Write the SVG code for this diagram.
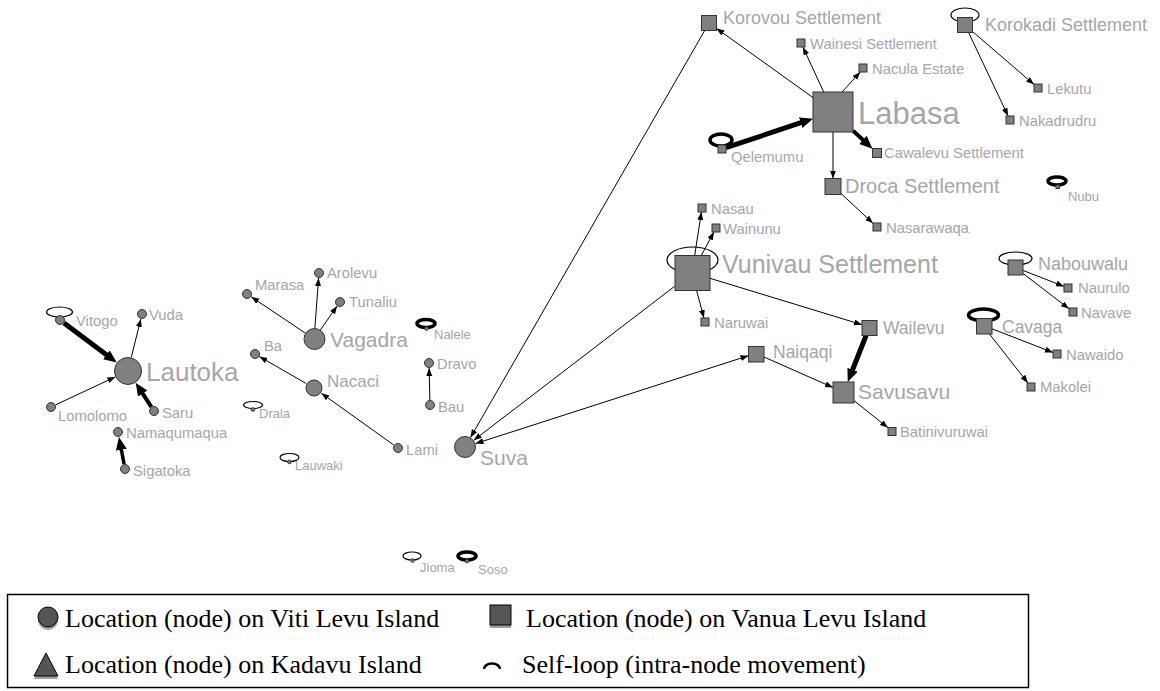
<svg xmlns="http://www.w3.org/2000/svg" width="1160" height="691" viewBox="0 0 1160 691">
<style>
.n{fill:#808080;stroke:#333;stroke-width:1}
.l{font-family:"Liberation Sans",Arial,sans-serif;fill:#a6a6a6;font-size:14.8px}
.s{font-size:13px}
.e{stroke:#000;stroke-width:1;fill:none;marker-end:url(#a)}
.E{stroke:#000;fill:none;marker-end:url(#A)}
.lp{fill:none;stroke:#000;stroke-width:1.2}
.lt{fill:none;stroke:#000;stroke-width:3.5}
.lg{font-family:"Liberation Serif","Times New Roman",serif;font-size:26px;fill:#000}
</style>
<defs>
<marker id="a" markerUnits="userSpaceOnUse" markerWidth="10" markerHeight="8" refX="8" refY="3" orient="auto-start-reverse"><path d="M0,0 L8,3 L0,6 z" fill="#000"/></marker>
<marker id="A" markerUnits="userSpaceOnUse" markerWidth="14" markerHeight="12" refX="5" refY="5.5" orient="auto"><path d="M0,0 L13,5.5 L0,11 z" fill="#000"/></marker>
</defs>
<rect width="1160" height="691" fill="#fff"/>
<g id="connectors">
<line class="E" stroke-width="5" x1="64" y1="323" x2="110.4" y2="357.8"/>
<line class="e" x1="131.3" y1="357.4" x2="140.8" y2="318.9"/>
<line class="e" x1="55.5" y1="404.9" x2="115.3" y2="376.9"/>
<line class="E" stroke-width="4" x1="151.3" y1="406.8" x2="140" y2="389.4"/>
<line class="E" stroke-width="3.5" x1="124.1" y1="464.1" x2="120.4" y2="444.8"/>
<line class="e" x1="305.7" y1="333.4" x2="251.2" y2="296.8"/>
<line class="e" stroke-width="1.5" x1="314.8" y1="329" x2="318.6" y2="278"/>
<line class="e" stroke-width="1.5" x1="319.8" y1="330.8" x2="337.1" y2="306.1"/>
<line class="e" x1="306.2" y1="383.5" x2="259.3" y2="356.5"/>
<line class="e" x1="393.9" y1="445.1" x2="321.3" y2="393.2"/>
<line class="e" x1="429.9" y1="400" x2="429.1" y2="368"/>
<line class="e" x1="704.7" y1="30.5" x2="470.5" y2="437.5"/>
<line class="e" x1="674.5" y1="286.4" x2="473.7" y2="440.3"/>
<line class="e" marker-start="url(#a)" x1="475.5" y1="443.6" x2="748.5" y2="355.7"/>
<line class="e" x1="813" y1="97.6" x2="716.5" y2="28.4"/>
<line class="e" x1="823.7" y1="92" x2="802.9" y2="47"/>
<line class="e" x1="842.1" y1="92" x2="860.3" y2="72"/>
<line class="E" stroke-width="5" x1="726" y1="147.7" x2="805.4" y2="121.2"/>
<line class="E" stroke-width="4" x1="853" y1="130.6" x2="866.6" y2="143.3"/>
<line class="e" x1="833" y1="132" x2="833" y2="178.5"/>
<line class="e" x1="841" y1="193.5" x2="873" y2="223.3"/>
<line class="e" x1="972.5" y1="31.5" x2="1034" y2="84.5"/>
<line class="e" x1="968.6" y1="32.5" x2="1008.1" y2="116"/>
<line class="e" x1="694.7" y1="255.5" x2="701.4" y2="212"/>
<line class="e" x1="701.3" y1="255.5" x2="713.9" y2="232"/>
<line class="e" x1="696.6" y1="290.5" x2="703.9" y2="318"/>
<line class="e" x1="710" y1="278.3" x2="862" y2="324.7"/>
<line class="E" stroke-width="5" x1="866.1" y1="335.5" x2="850.7" y2="374.5"/>
<line class="e" x1="764" y1="357" x2="833" y2="387.5"/>
<line class="e" x1="854" y1="400.6" x2="888" y2="427.75"/>
<line class="e" x1="1023.2" y1="270.5" x2="1064" y2="286.4"/>
<line class="e" x1="1023.2" y1="273.5" x2="1069" y2="308.8"/>
<line class="e" x1="992" y1="328.8" x2="1053" y2="352.5"/>
<line class="e" x1="989.5" y1="334" x2="1027.9" y2="383"/>
<ellipse class="lp" cx="59.5" cy="312" rx="13" ry="5"/>
<ellipse class="lp" cx="253" cy="405" rx="9.5" ry="3.5"/>
<ellipse class="lp" cx="289.5" cy="457.5" rx="9.5" ry="4"/>
<ellipse class="lt" cx="426" cy="323.5" rx="9" ry="4"/>
<ellipse class="lp" cx="412" cy="556" rx="9" ry="4"/>
<ellipse class="lt" cx="467" cy="556" rx="9" ry="4"/>
<ellipse class="lt" cx="721" cy="140" rx="11" ry="6"/>
<ellipse class="lp" cx="965" cy="15" rx="14" ry="7"/>
<ellipse class="lt" cx="1057" cy="181" rx="9" ry="4"/>
<ellipse class="lp" cx="692.5" cy="260" rx="25.5" ry="13"/>
<ellipse class="lp" cx="1015.5" cy="258.5" rx="16.5" ry="6.5"/>
<ellipse class="lt" cx="983.5" cy="315" rx="15" ry="6"/>
</g>
<g id="n-lautoka"><circle class="n" cx="128" cy="371" r="13.5"/><text class="l" x="146" y="381" style="font-size:26px">Lautoka</text></g>
<g id="n-vitogo"><circle class="n" cx="60" cy="320" r="4.5"/><text class="l" x="76" y="326">Vitogo</text></g>
<g id="n-vuda"><circle class="n" cx="142" cy="314" r="4.5"/><text class="l" x="149" y="320">Vuda</text></g>
<g id="n-lomolomo"><circle class="n" cx="51" cy="407" r="4.5"/><text class="l" x="58" y="421">Lomolomo</text></g>
<g id="n-saru"><circle class="n" cx="154" cy="411" r="4.5"/><text class="l" x="162" y="418">Saru</text></g>
<g id="n-namaqumaqua"><circle class="n" cx="118" cy="432" r="4.5"/><text class="l" x="126" y="438">Namaqumaqua</text></g>
<g id="n-sigatoka"><circle class="n" cx="125" cy="469" r="4.5"/><text class="l" x="133" y="476">Sigatoka</text></g>
<g id="n-marasa"><circle class="n" cx="247" cy="294" r="4.5"/><text class="l" x="255" y="290">Marasa</text></g>
<g id="n-arolevu"><circle class="n" cx="319" cy="273" r="4.5"/><text class="l" x="327" y="278">Arolevu</text></g>
<g id="n-tunaliu"><circle class="n" cx="340" cy="302" r="4.5"/><text class="l" x="349" y="307">Tunaliu</text></g>
<g id="n-vagadra"><circle class="n" cx="314.5" cy="339" r="10.5"/><text class="l" x="330" y="347" style="font-size:21px">Vagadra</text></g>
<g id="n-ba"><circle class="n" cx="255" cy="354" r="4.5"/><text class="l" x="264" y="351">Ba</text></g>
<g id="n-nacaci"><circle class="n" cx="314" cy="388" r="8"/><text class="l" x="327" y="387" style="font-size:17px">Nacaci</text></g>
<g id="n-drala"><circle class="n" cx="253" cy="409.5" r="1.8"/><text class="l s" x="259" y="418">Drala</text></g>
<g id="n-lauwaki"><circle class="n" cx="289.5" cy="462" r="1.8"/><text class="l s" x="295" y="470">Lauwaki</text></g>
<g id="n-nalele"><circle class="n" cx="426.5" cy="328.5" r="1.8"/><text class="l s" x="434" y="339">Nalele</text></g>
<g id="n-dravo"><circle class="n" cx="429" cy="363" r="4.5"/><text class="l" x="437" y="369">Dravo</text></g>
<g id="n-bau"><circle class="n" cx="430" cy="405" r="4.5"/><text class="l" x="438" y="412">Bau</text></g>
<g id="n-lami"><circle class="n" cx="398" cy="448" r="4.5"/><text class="l" x="406" y="455">Lami</text></g>
<g id="n-suva"><circle class="n" cx="465" cy="447" r="10.5"/><text class="l" x="480" y="465" style="font-size:21px">Suva</text></g>
<g id="n-jioma"><circle class="n" cx="412.5" cy="560.5" r="1.8"/><text class="l s" x="420" y="572">Jioma</text></g>
<g id="n-soso"><circle class="n" cx="467" cy="561" r="1.8"/><text class="l s" x="478" y="574">Soso</text></g>
<g id="n-korovou"><rect class="n" x="701.5" y="15.5" width="15" height="15"/><text class="l" x="723" y="24" style="font-size:18px">Korovou Settlement</text></g>
<g id="n-wainesi"><rect class="n" x="797" y="39" width="8" height="8"/><text class="l" x="810" y="49">Wainesi Settlement</text></g>
<g id="n-nacula"><rect class="n" x="859" y="64" width="8" height="8"/><text class="l" x="872" y="74">Nacula Estate</text></g>
<g id="n-labasa"><rect class="n" x="813" y="92" width="40" height="40"/><text class="l" x="858" y="124" style="font-size:31px">Labasa</text></g>
<g id="n-qelemumu"><rect class="n" x="718" y="145" width="8" height="8"/><text class="l" x="731" y="162">Qelemumu</text></g>
<g id="n-cawalevu"><rect class="n" x="872.5" y="148.5" width="9" height="9"/><text class="l" x="884" y="158">Cawalevu Settlement</text></g>
<g id="n-droca"><rect class="n" x="825" y="178.5" width="16" height="16"/><text class="l" x="845" y="193" style="font-size:20px">Droca Settlement</text></g>
<g id="n-nasarawaqa"><rect class="n" x="873" y="223" width="8" height="8"/><text class="l" x="886" y="233">Nasarawaqa</text></g>
<g id="n-korokadi"><rect class="n" x="957.5" y="17.5" width="15" height="15"/><text class="l" x="985" y="31" style="font-size:18px">Korokadi Settlement</text></g>
<g id="n-lekutu"><rect class="n" x="1034" y="84" width="8" height="8"/><text class="l" x="1047" y="94">Lekutu</text></g>
<g id="n-nakadrudru"><rect class="n" x="1006" y="116" width="8" height="8"/><text class="l" x="1019" y="126">Nakadrudru</text></g>
<g id="n-nubu"><rect class="n" x="1056" y="185" width="3.5" height="3.5"/><text class="l s" x="1068" y="201">Nubu</text></g>
<g id="n-nasau"><rect class="n" x="698" y="204" width="8" height="8"/><text class="l" x="711" y="214">Nasau</text></g>
<g id="n-wainunu"><rect class="n" x="712" y="224" width="8" height="8"/><text class="l" x="723" y="234">Wainunu</text></g>
<g id="n-vunivau"><rect class="n" x="675" y="255.5" width="35" height="35"/><text class="l" x="722" y="273" style="font-size:25px">Vunivau Settlement</text></g>
<g id="n-naruwai"><rect class="n" x="701" y="318" width="8" height="8"/><text class="l" x="714" y="328">Naruwai</text></g>
<g id="n-wailevu"><rect class="n" x="862" y="320.5" width="15" height="15"/><text class="l" x="883" y="334" style="font-size:17.5px">Wailevu</text></g>
<g id="n-naiqaqi"><rect class="n" x="748.5" y="346.5" width="15.5" height="15.5"/><text class="l" x="773" y="358" style="font-size:17.5px">Naiqaqi</text></g>
<g id="n-savusavu"><rect class="n" x="833" y="382" width="21" height="21"/><text class="l" x="858" y="399" style="font-size:21px">Savusavu</text></g>
<g id="n-batinivuruwai"><rect class="n" x="888" y="427.5" width="8" height="8"/><text class="l" x="900" y="437">Batinivuruwai</text></g>
<g id="n-nabouwalu"><rect class="n" x="1008" y="260" width="15" height="15"/><text class="l" x="1038" y="270" style="font-size:18px">Nabouwalu</text></g>
<g id="n-naurulo"><rect class="n" x="1064" y="284" width="8" height="8"/><text class="l" x="1078" y="293">Naurulo</text></g>
<g id="n-navave"><rect class="n" x="1069" y="308" width="8" height="8"/><text class="l" x="1081" y="318">Navave</text></g>
<g id="n-cavaga"><rect class="n" x="976.5" y="318.5" width="15.5" height="15.5"/><text class="l" x="1002" y="333" style="font-size:17.5px">Cavaga</text></g>
<g id="n-nawaido"><rect class="n" x="1053" y="350" width="8" height="8"/><text class="l" x="1066" y="360">Nawaido</text></g>
<g id="n-makolei"><rect class="n" x="1027" y="383" width="8" height="8"/><text class="l" x="1040" y="392">Makolei</text></g>
<g id="legend">
<rect x="7.5" y="594.5" width="1021" height="93" fill="#fff" stroke="#000" stroke-width="1.5"/>
<circle cx="48" cy="620" r="10" fill="#a0a0a0"/>
<circle cx="48" cy="617" r="10" fill="#555" stroke="#000" stroke-width="1"/>
<text class="lg" x="65" y="627">Location (node) on Viti Levu Island</text>
<rect x="490" y="608" width="21" height="20" fill="#a0a0a0"/>
<rect x="490" y="605" width="21" height="20" fill="#555" stroke="#000" stroke-width="1"/>
<text class="lg" x="526" y="627">Location (node) on Vanua Levu Island</text>
<polygon points="34,679 58,679 46,656" fill="#a0a0a0"/>
<polygon points="34,676 58,676 46,653" fill="#555" stroke="#000" stroke-width="1"/>
<text class="lg" x="65" y="673">Location (node) on Kadavu Island</text>
<path d="M484,669 A8,5.5 0 1 1 500,669" fill="none" stroke="#000" stroke-width="2.5"/>
<text class="lg" x="522" y="673">Self-loop (intra-node movement)</text>
</g>
</svg>
